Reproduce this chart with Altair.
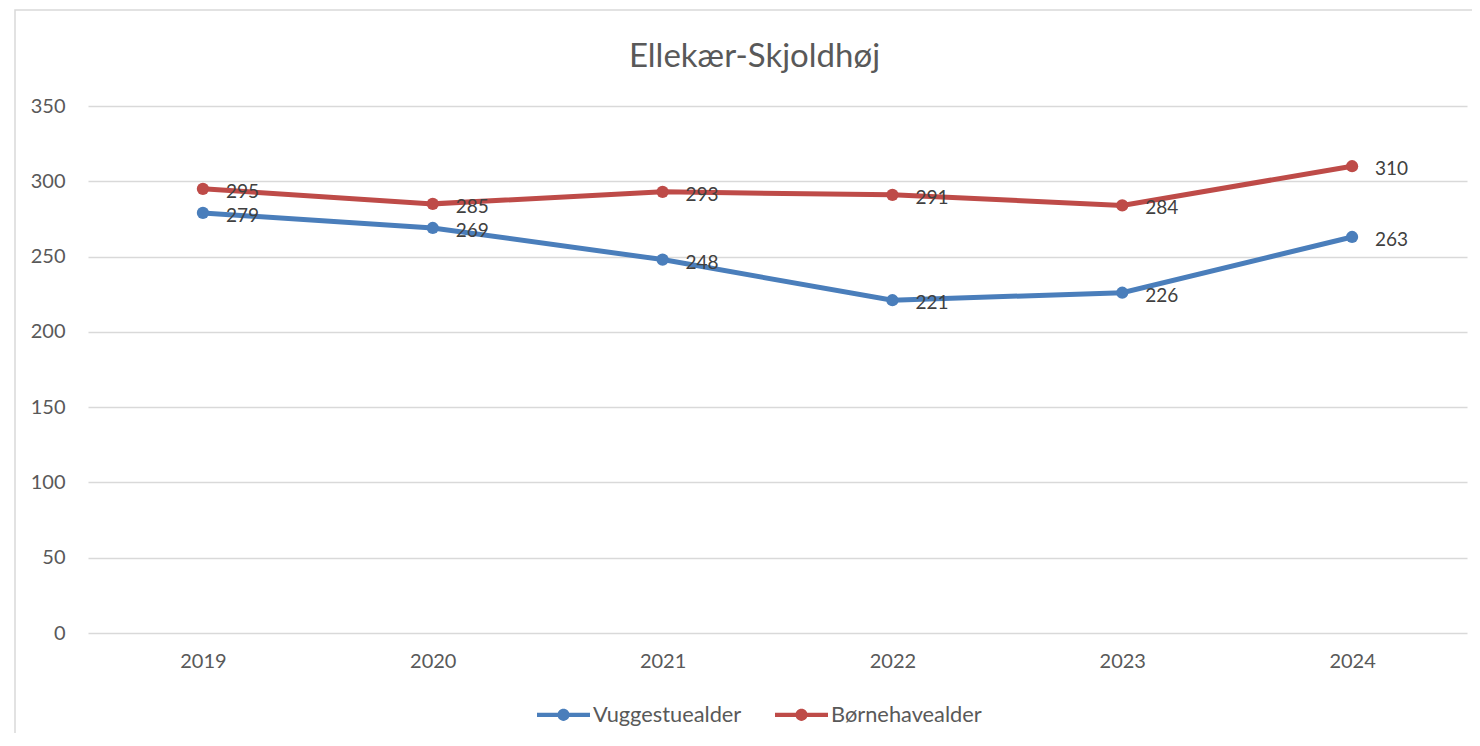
import altair as alt
import pandas as pd

years = ["2019", "2020", "2021", "2022", "2023", "2024"]
vuggestue = [279, 269, 248, 221, 226, 263]
boernehave = [295, 285, 293, 291, 284, 310]
series_names = ["Vuggestuealder", "Børnehavealder"]
series_colors = ["#4A7EBB", "#BE4B48"]

rows = []
for y, v in zip(years, vuggestue):
    rows.append({"year": y, "value": v, "series": series_names[0]})
for y, v in zip(years, boernehave):
    rows.append({"year": y, "value": v, "series": series_names[1]})
df = pd.DataFrame(rows)

FONT = "Lato"
W, H = 1379, 527

x_enc = alt.X("year:N", title=None, sort=years,
              scale=alt.Scale(paddingInner=1, paddingOuter=0.5),
              axis=alt.Axis(labelAngle=0, labelFontSize=20, labelColor="#595959",
                            labelFont=FONT, ticks=False, domain=False, grid=False,
                            labelPadding=18))
y_enc = alt.Y("value:Q", title=None,
              scale=alt.Scale(domain=[0, 350], nice=False),
              axis=alt.Axis(values=[0, 50, 100, 150, 200, 250, 300, 350],
                            labelFontSize=20, labelColor="#595959", labelFont=FONT,
                            ticks=False, domain=False, gridColor="#d9d9d9",
                            gridWidth=1.5, labelPadding=23))
color_scale = alt.Scale(domain=series_names, range=series_colors)

legend_path = ("M-1,-0.08H-0.2V0.08H-1Z"
               "M0.2,-0.08H1V0.08H0.2Z"
               "M0.23,0A0.23,0.23,0,1,1,-0.23,0A0.23,0.23,0,1,1,0.23,0Z")

legend = alt.Legend(
    title=None, orient="none", direction="horizontal",
    legendX=449, legendY=582,
    symbolType=legend_path, symbolSize=2809,
    symbolStrokeWidth=0, symbolOpacity=1,
    labelFontSize=21.8, labelFont=FONT,
    labelColor="#595959", labelOffset=3, columnPadding=33,
    padding=0)

base = alt.Chart(df)

border = alt.Chart(pd.DataFrame({"a": [0]})).mark_rect(
    fill=None, stroke="#d9d9d9", strokeWidth=1.5
).encode(x=alt.value(-73), x2=alt.value(1500), y=alt.value(-96), y2=alt.value(700))

lines = base.mark_line(strokeWidth=5).encode(
    x=x_enc, y=y_enc,
    color=alt.Color("series:N", scale=color_scale, sort=series_names, legend=legend),
)

points = base.mark_point(filled=True, size=150, opacity=1).encode(
    x=x_enc, y=y_enc,
    color=alt.Color("series:N", scale=color_scale, sort=series_names, legend=legend),
)

labels = base.mark_text(align="left", baseline="middle", dx=23, dy=3,
                        fontSize=19, font=FONT, color="#404040").encode(
    x=x_enc, y=y_enc, text=alt.Text("value:Q"),
)

chart = alt.layer(border, lines, points, labels).properties(
    width=W, height=H,
    background="white",
    title=alt.TitleParams("Ellekær-Skjoldhøj", fontSize=33, font=FONT,
                          fontWeight="normal", color="#595959", anchor="middle",
                          frame="group", dx=-23, offset=-98, baseline="bottom"),
    padding={"left": 80, "top": 98, "right": 5, "bottom": 100},
    autosize=alt.AutoSizeParams(type="none"),
).configure_view(strokeWidth=0, stroke="transparent")

chart.save("out.html", embed_options={"renderer": "svg", "actions": False})
